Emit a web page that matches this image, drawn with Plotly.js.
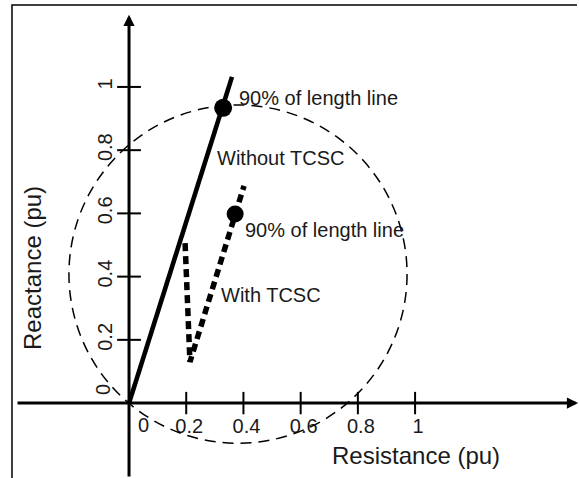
<!DOCTYPE html>
<html><head><meta charset="utf-8">
<script src="https://cdn.plot.ly/plotly-3.0.1.min.js"></script>
<style>html,body{margin:0;padding:0;background:#fff}#chart{width:579px;height:478px}</style>
</head><body><div id="chart"></div>
<script>
// ---- data ----
const xTickVals = [0.2, 0.4, 0.6, 0.8, 1];
const xTickText = ['0.2', '0.4', '0.6', '0.8', '1'];
const yTickVals = [0.2, 0.4, 0.6, 0.8, 1];
const yTickText = ['0.2', '0.4', '0.6', '0.8', '1'];
const originLabel = '0';

const withoutR = [0, 0.360];
const withoutX = [0, 1.032];
const without90R = [0.329];
const without90X = [0.934];

const withR = [0.196, 0.213, 0.402];
const withX = [0.506, 0.130, 0.687];
const with90R = [0.371];
const with90X = [0.598];

const circleCenter = [0.381, 0.408];   // [R, X]
const circleRadius = [0.591, 0.535];   // [R, X]

const xRange = [-0.451, 1.573];
const yRange = [-0.237, 1.275];
const xAxisExtent = [-0.395, 1.570];
const yAxisExtent = [-0.237, 1.228];

const FONT = 'Liberation Sans, Arial, sans-serif';
const TXT = '#1a1a1a';

const traces = [
  {x: withoutR, y: withoutX, mode: 'lines', line: {color: '#000', width: 4.6}},
  {x: without90R, y: without90X, mode: 'markers', marker: {color: '#000', size: 18}},
  {x: withR, y: withX, mode: 'lines', line: {color: '#000', width: 5.5, dash: '8px,5px'}},
  {x: with90R, y: with90X, mode: 'markers', marker: {color: '#000', size: 17}},
  {x: xTickVals, y: xTickVals.map(() => 0), mode: 'markers',
   marker: {symbol: 'line-ns-open', size: 16, color: '#000', line: {color: '#000', width: 2}}},
  {x: yTickVals.map(() => 0), y: yTickVals, mode: 'markers',
   marker: {symbol: 'line-ew-open', size: 17, color: '#000', line: {color: '#000', width: 2}}}
];

const layout = {
  width: 579, height: 478,
  margin: {l: 0, r: 0, t: 0, b: 0},
  paper_bgcolor: '#fff', plot_bgcolor: '#fff',
  showlegend: false, hovermode: false,
  font: {family: FONT, color: TXT},
  xaxis: {
    range: xRange, domain: [0, 1], anchor: 'free', position: 75 / 478,
    showgrid: false, zeroline: false, showline: false, ticks: '',
    tickmode: 'array', tickvals: xTickVals, ticktext: xTickText,
    tickfont: {family: FONT, size: 20, color: TXT},
    ticklabelstandoff: 9, ticklabelshift: 3
  },
  yaxis: {
    range: yRange, domain: [0, 1], anchor: 'free', position: 129 / 579,
    showgrid: false, zeroline: false, showline: false, ticks: '',
    tickmode: 'array', tickvals: yTickVals, ticktext: yTickText, tickangle: -90,
    tickfont: {family: FONT, size: 20, color: TXT},
    ticklabelstandoff: 13
  },
  shapes: [
    {type: 'circle', xref: 'x', yref: 'y',
     x0: circleCenter[0] - circleRadius[0], x1: circleCenter[0] + circleRadius[0],
     y0: circleCenter[1] - circleRadius[1], y1: circleCenter[1] + circleRadius[1],
     line: {color: '#000', width: 1.5, dash: '11px,7px'}},
    {type: 'path', xref: 'paper', yref: 'paper',
     path: 'M 0.0207 0 L 0.0207 0.9895 L 0.9965 0.9895',
     line: {color: '#000', width: 1.5}}
  ],
  annotations: [
    {x: 0, y: yAxisExtent[1], ax: 0, ay: yAxisExtent[0], xref: 'x', yref: 'y', axref: 'x', ayref: 'y',
     text: '', showarrow: true, arrowhead: 2, arrowsize: 0.75, arrowwidth: 3, arrowcolor: '#000', standoff: 0},
    {x: xAxisExtent[1], y: 0, ax: xAxisExtent[0], ay: 0, xref: 'x', yref: 'y', axref: 'x', ayref: 'y',
     text: '', showarrow: true, arrowhead: 2, arrowsize: 0.75, arrowwidth: 3, arrowcolor: '#000', standoff: 0},
    {x: 0, y: 0, xref: 'x', yref: 'y', text: originLabel, showarrow: false,
     xshift: 14, yshift: -22, font: {size: 20, color: TXT}},
    {x: 0, y: 0, xref: 'x', yref: 'y', text: originLabel, showarrow: false, textangle: -90,
     xshift: -26, yshift: 13, font: {size: 20, color: TXT}},
    {x: 0.378, y: 0.965, xref: 'x', yref: 'y', text: '90% of length line', showarrow: false,
     xanchor: 'left', yanchor: 'middle', font: {size: 20, color: TXT}},
    {x: 0.301, y: 0.775, xref: 'x', yref: 'y', text: 'Without TCSC', showarrow: false,
     xanchor: 'left', yanchor: 'middle', font: {size: 20, color: TXT}},
    {x: 0.399, y: 0.547, xref: 'x', yref: 'y', text: '90% of length line', showarrow: false,
     xanchor: 'left', yanchor: 'middle', font: {size: 20, color: TXT}},
    {x: 0.315, y: 0.342, xref: 'x', yref: 'y', text: 'With TCSC', showarrow: false,
     xanchor: 'left', yanchor: 'middle', font: {size: 20, color: TXT}},
    {x: 416 / 579, y: 1 - 455 / 478, xref: 'paper', yref: 'paper', text: 'Resistance (pu)',
     showarrow: false, xanchor: 'center', yanchor: 'middle', font: {size: 24, color: TXT}},
    {x: 32 / 579, y: 1 - 268 / 478, xref: 'paper', yref: 'paper', text: 'Reactance (pu)',
     showarrow: false, textangle: -90, xanchor: 'center', yanchor: 'middle', font: {size: 24, color: TXT}}
  ]
};

Plotly.newPlot('chart', traces, layout, {displayModeBar: false, staticPlot: true});
</script>
</body></html>
